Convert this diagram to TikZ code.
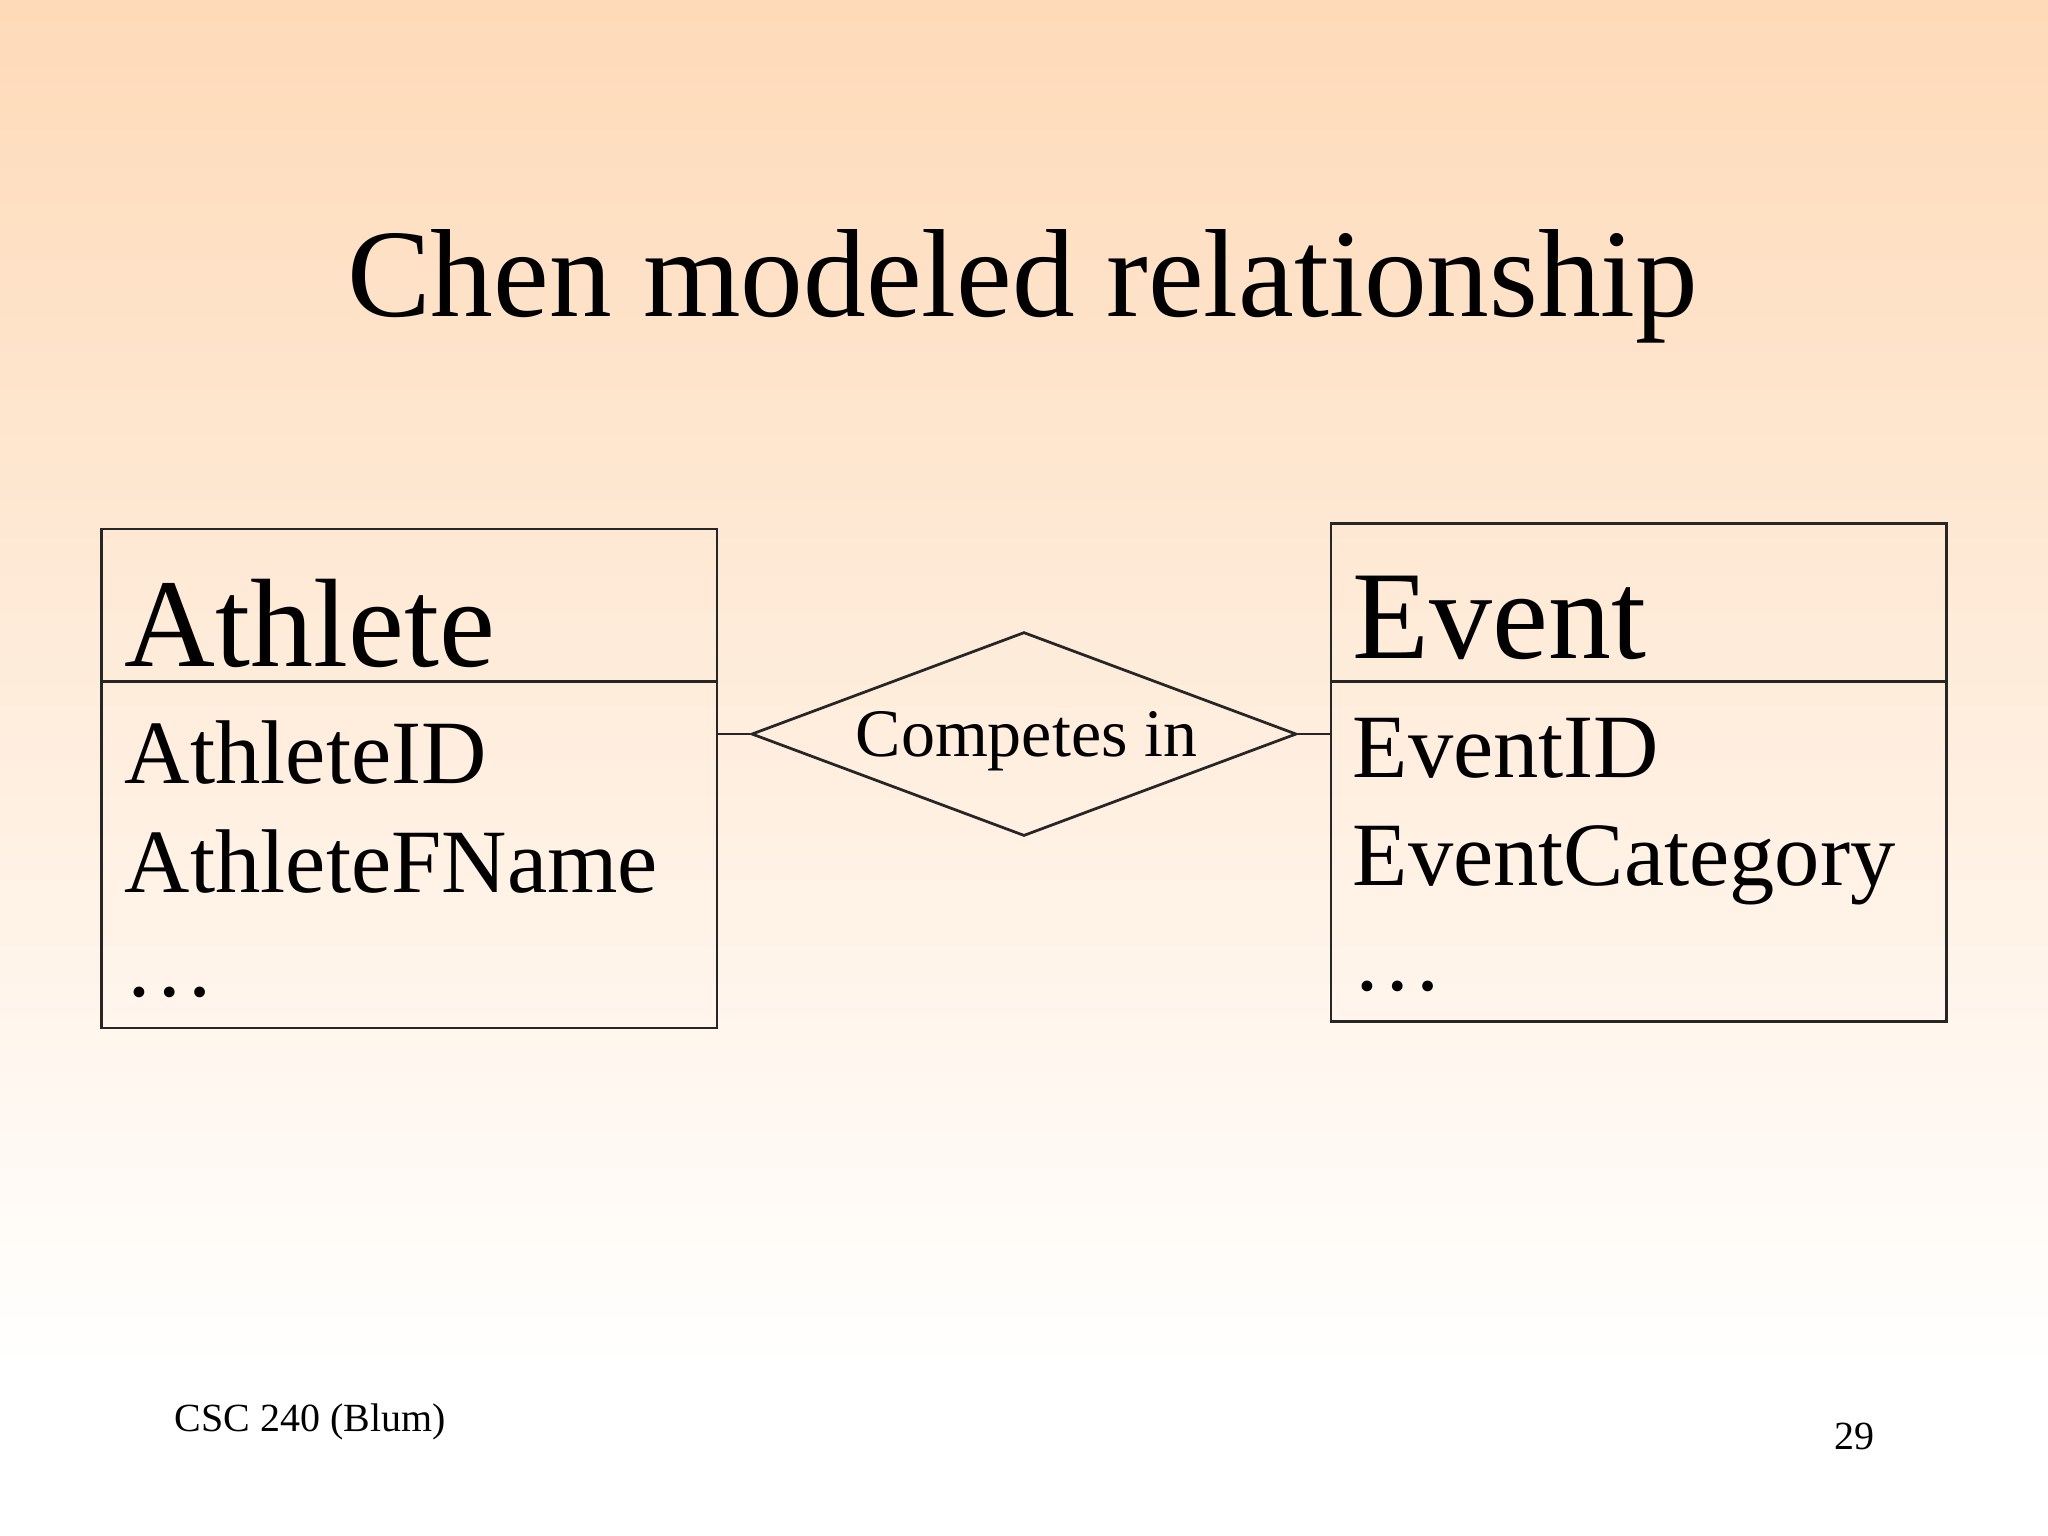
\documentclass[tikz,border=0pt]{standalone}
\usepackage{fontspec}
\setmainfont{Liberation Serif}
\usetikzlibrary{shapes.geometric}
\begin{document}
\begin{tikzpicture}[x=0.01cm,y=-0.01cm,
  box/.style={draw=black!85,line width=0.6pt},
  big/.style={anchor=base west,inner sep=0,font=\fontsize{27.4}{27.4}\selectfont},
  attr/.style={anchor=base west,inner sep=0,font=\fontsize{19.7}{19.7}\selectfont},
  small/.style={anchor=base west,inner sep=0,font=\fontsize{8.7}{8.7}\selectfont}]
\useasboundingbox (0,0) rectangle (1568,1176);
\shade[top color={rgb,255:red,254;green,218;blue,184}, bottom color=white] (0,0) rectangle (1568,1050);
\fill[white] (0,1049) rectangle (1568,1176);
\node[anchor=base,inner sep=0,font=\fontsize{27.3}{27.3}\selectfont] (title) at (783,242) {Chen modeled relationship};
% Athlete
\draw[box] (78,405) rectangle (549,787);
\draw[box] (78,522) -- (549,522);
\coordinate (aR) at (549,562);
\node[big] (ath) at (95,510) {Athlete};
\node[attr] (a1) at (95,600) {AthleteID};
\node[attr] (a2) at (95,683) {AthleteFName};
\node[attr] (a3) at (95,763) {\ldots};
% Event
\draw[box] (1019,401) rectangle (1490,782);
\draw[box] (1019,522) -- (1490,522);
\coordinate (eL) at (1019,562);
\node[big] (ev) at (1035,504) {Event};
\node[attr] (e1) at (1035,595) {EventID};
\node[attr] (e2) at (1035,678) {EventCategory};
\node[attr] (e3) at (1035,758) {\ldots};
% Diamond
\node[diamond,draw=black!85,line width=0.6pt,inner sep=0,
  minimum width=4.17cm,minimum height=1.56cm,aspect=2.67] (rel) at (784,562) {};
\node[anchor=base,inner sep=0,font=\fontsize{14.8}{14.8}\selectfont] (rl) at (786,579) {Competes in};
\draw[box] (aR) -- (rel.west);
\draw[box] (rel.east) -- (eL);
\node[small] (foot) at (133,1096) {CSC 240 (Blum)};
\node[small] (pg) at (1404,1110) {29};
\end{tikzpicture}
\end{document}
